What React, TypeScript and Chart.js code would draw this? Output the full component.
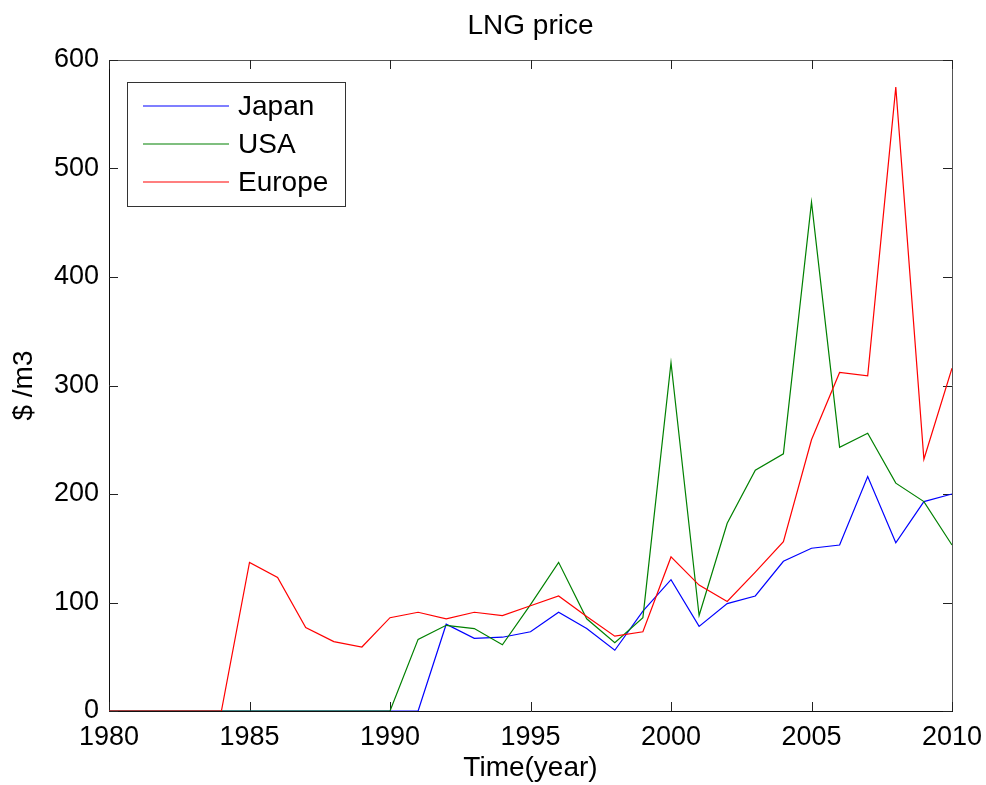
import { useEffect, useRef } from "react";
import { Chart, registerables } from "chart.js";

Chart.register(...registerables);

const YEARS = [1980, 1981, 1982, 1983, 1984, 1985, 1986, 1987, 1988, 1989, 1990, 1991, 1992, 1993, 1994, 1995, 1996, 1997, 1998, 1999, 2000, 2001, 2002, 2003, 2004, 2005, 2006, 2007, 2008, 2009, 2010];
const JAPAN = [0, 0, 0, 0, 0, 0, 0, 0, 0, 0, 0, 0, 80, 67, 68, 73, 91, 76, 56, 92, 121, 78, 99, 106, 138, 150, 153, 216, 155, 193, 200];
const USA = [0, 0, 0, 0, 0, 0, 0, 0, 0, 0, 0, 66, 79, 76, 61, 98, 137, 85, 63, 86, 321, 88, 173, 222, 237, 469, 243, 256, 210, 193, 153];
const EUROPE = [0, 0, 0, 0, 0, 137, 123, 77, 64, 59, 86, 91, 85, 91, 88, 97, 106, 87, 69, 73, 142, 116, 101, 128, 156, 250, 312, 309, 575, 232, 316];
const SERIES_NAMES = ["Japan", "USA", "Europe"];
const SERIES_COLORS = ["#0000ff", "#008000", "#ff0000"];
const X_TICKS = [1980, 1985, 1990, 1995, 2000, 2005, 2010];
const Y_TICKS = [0, 100, 200, 300, 400, 500, 600];
const TITLE = "LNG price";
const X_LABEL = "Time(year)";
const Y_LABEL = "$ /m3";

const FONT = '"Liberation Sans", Arial, Helvetica, sans-serif';

const framePlugin = {
  id: "matlabFrame",
  beforeDatasetsDraw(chart: any) {
    const { ctx, chartArea } = chart;
    const { left, right, top, bottom } = chartArea;
    const xs = chart.scales.x;
    const ys = chart.scales.y;
    ctx.save();
    ctx.lineWidth = 1;
    ctx.strokeStyle = "#555";
    ctx.beginPath();
    ctx.moveTo(left, top + 0.5);
    ctx.lineTo(right + 0.5, top + 0.5);
    ctx.lineTo(right + 0.5, bottom);
    ctx.stroke();
    ctx.strokeStyle = "#111";
    ctx.beginPath();
    ctx.moveTo(left + 0.5, top);
    ctx.lineTo(left + 0.5, bottom + 0.5);
    ctx.lineTo(right + 1, bottom + 0.5);
    ctx.stroke();
    const tl = 9;
    ctx.strokeStyle = "#222";
    ctx.beginPath();
    xs.ticks.forEach((t: any) => {
      const px = Math.round(xs.getPixelForValue(t.value)) + 0.5;
      ctx.moveTo(px, bottom);
      ctx.lineTo(px, bottom - tl);
      ctx.moveTo(px, top);
      ctx.lineTo(px, top + tl);
    });
    ys.ticks.forEach((t: any) => {
      const py = Math.round(ys.getPixelForValue(t.value)) + 0.5;
      ctx.moveTo(left, py);
      ctx.lineTo(left + tl, py);
      ctx.moveTo(right, py);
      ctx.lineTo(right - tl, py);
    });
    ctx.stroke();
    ctx.restore();
  },
  afterDraw(chart: any) {
    const { ctx, chartArea } = chart;
    ctx.save();
    ctx.fillStyle = "#000";
    ctx.font = `28px ${FONT}`;
    ctx.textAlign = "center";
    ctx.textBaseline = "alphabetic";
    ctx.fillText(TITLE, (chartArea.left + chartArea.right) / 2, 34);
    const bx = 127, by = 82, bw = 218, bh = 124;
    ctx.fillStyle = "#fff";
    ctx.fillRect(bx, by, bw, bh);
    ctx.strokeStyle = "#333";
    ctx.lineWidth = 1;
    ctx.strokeRect(bx + 0.5, by + 0.5, bw, bh);
    ctx.textAlign = "left";
    ctx.textBaseline = "middle";
    ctx.font = `28px ${FONT}`;
    const rows = [106, 144, 182];
    SERIES_NAMES.forEach((name, i) => {
      const y = rows[i];
      ctx.strokeStyle = SERIES_COLORS[i];
      ctx.lineWidth = 1.2;
      ctx.beginPath();
      ctx.moveTo(143, y);
      ctx.lineTo(229, y);
      ctx.stroke();
      ctx.fillStyle = "#000";
      ctx.fillText(name, 238, y + 1);
    });
    ctx.restore();
  },
};

export default function App() {
  const ref = useRef<HTMLCanvasElement | null>(null);
  useEffect(() => {
    if (!ref.current) return;
    Chart.defaults.font.family = FONT;
    const mk = (vals: number[]) => YEARS.map((y, i) => ({ x: y, y: vals[i] }));
    const chart = new Chart(ref.current, {
      type: "line",
      data: {
        datasets: [
          { label: SERIES_NAMES[0], data: mk(JAPAN), borderColor: SERIES_COLORS[0], borderWidth: 1.2, pointRadius: 0, tension: 0, fill: false, order: 3 },
          { label: SERIES_NAMES[1], data: mk(USA), borderColor: SERIES_COLORS[1], borderWidth: 1.2, pointRadius: 0, tension: 0, fill: false, order: 2 },
          { label: SERIES_NAMES[2], data: mk(EUROPE), borderColor: SERIES_COLORS[2], borderWidth: 1.2, pointRadius: 0, tension: 0, fill: false, order: 1 },
        ],
      },
      options: {
        animation: false,
        responsive: false,
        maintainAspectRatio: false,
        layout: { padding: { top: 60, right: 34, left: 0, bottom: 0 } },
        plugins: { legend: { display: false }, tooltip: { enabled: false }, title: { display: false } },
        scales: {
          x: {
            type: "linear",
            min: 1980,
            max: 2010,
            afterBuildTicks: (s: any) => { s.ticks = X_TICKS.map((v) => ({ value: v })); },
            afterFit: (s: any) => { s.height = 74; s.paddingRight = 0; s.paddingLeft = 0; },
            grid: { display: false, drawTicks: false },
            border: { display: false },
            ticks: { color: "#000", font: { size: 27, family: FONT }, padding: 10, maxRotation: 0, autoSkip: false, callback: (v: any) => String(v) },
            title: { display: true, text: X_LABEL, color: "#000", font: { size: 28, family: FONT, lineHeight: 1.2 }, padding: 0 },
          },
          y: {
            type: "linear",
            min: 0,
            max: 600,
            afterBuildTicks: (s: any) => { s.ticks = Y_TICKS.map((v) => ({ value: v })); },
            afterFit: (s: any) => { s.width = 109; s.paddingTop = 0; s.paddingBottom = 0; },
            grid: { display: false, drawTicks: false },
            border: { display: false },
            ticks: { color: "#000", font: { size: 27, family: FONT }, padding: 10, autoSkip: false, callback: (v: any) => String(v) },
            title: { display: true, text: Y_LABEL, color: "#000", font: { size: 28, family: FONT, lineHeight: 1.2 }, padding: { top: 7, bottom: 0 } },
          },
        },
      },
      plugins: [framePlugin],
    });
    return () => chart.destroy();
  }, []);
  return (
    <div style={{ position: "absolute", left: 0, top: 0, width: 986, height: 785, background: "#fff" }}>
      <canvas ref={ref} width={986} height={785} style={{ display: "block" }} />
    </div>
  );
}
